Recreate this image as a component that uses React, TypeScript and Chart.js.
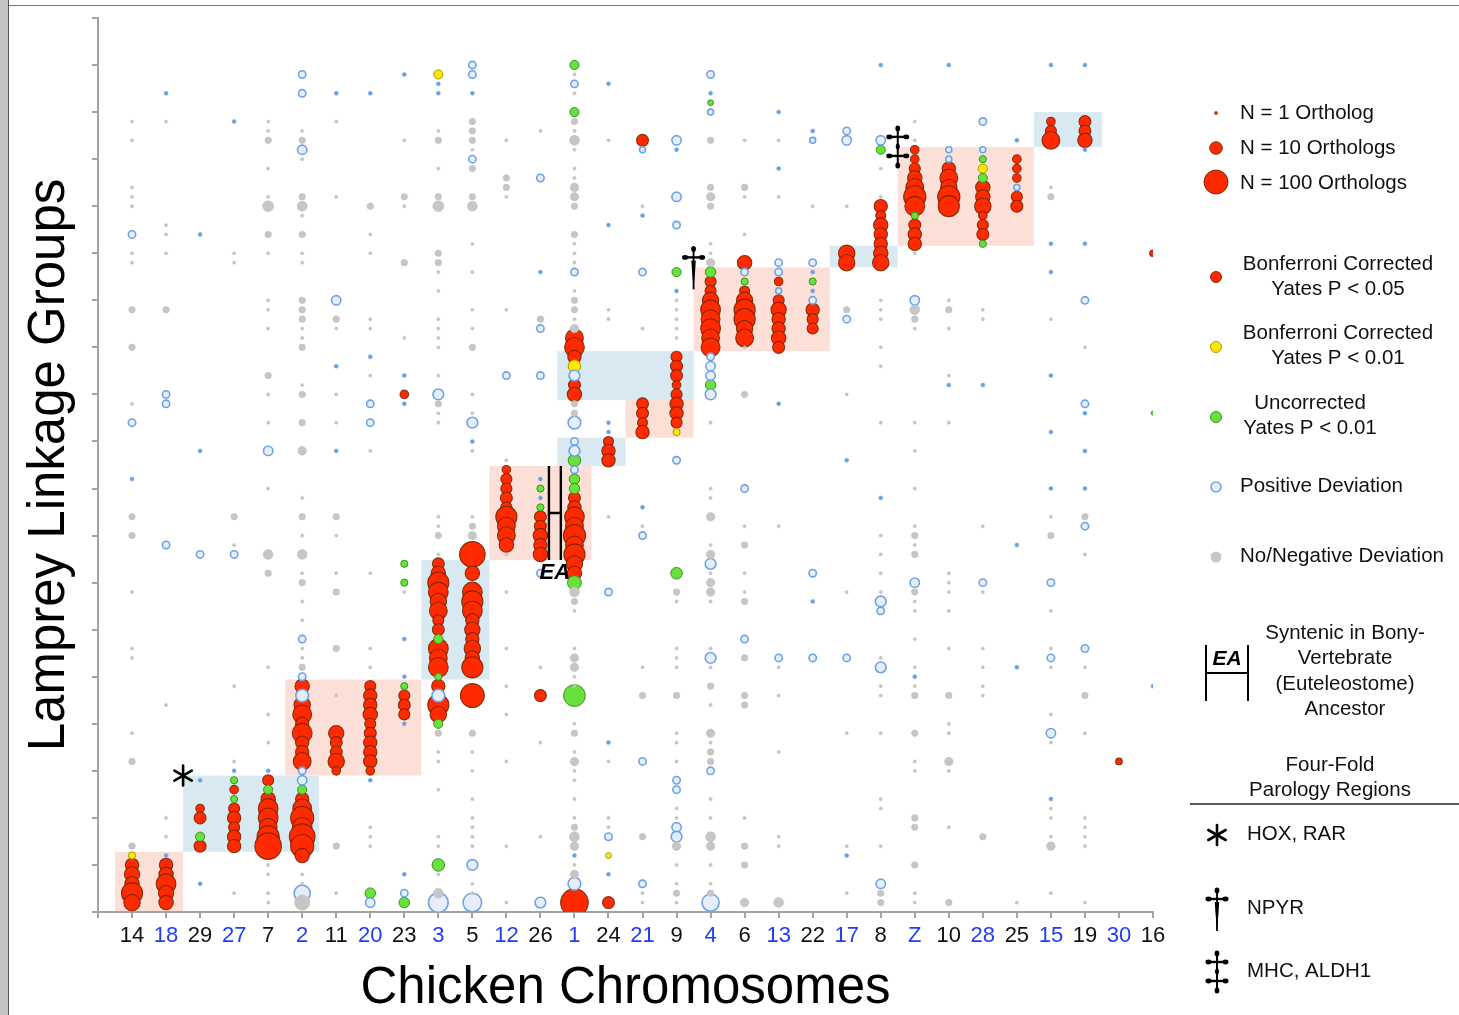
import React, { useEffect, useRef } from 'react';
import { Chart, registerables } from 'chart.js';

Chart.register(...registerables);

const FONT = '"Liberation Sans", Arial, Helvetica, sans-serif';

const categories = ['14','18','29','27','7','2','11','20','23','3','5','12','26','1','24','21','9','4','6','13','22','17','8','Z','10','28','25','15','19','30','16'];
const blueCategories = ['18','27','2','20','3','12','1','21','4','13','17','Z','28','15','30'];

type Entry = number | [number, number];
type Column = [string, Entry[]];

// [chicken chromosome, [[lamprey LG, ortholog count], ...]]
const redPoints: Column[] = [
  ['14', [[5,8],[4,12],[3,10],[2,40],[1,15]]],
  ['18', [[5,8],[4,10],[3,30],[2,12],[1,10]]],
  ['29', [[11,3],[10,6],[7,6]]],
  ['27', [[13,3],[11,5],[10,8],[9,5],[8,8],[7,8]]],
  ['7', [[14,5],[12,10],[11,30],[10,30],[9,20],[8,50],[7,120]]],
  ['2', [[24,10],[22,15],[21,25],[20,8],[19,30],[18,8],[17,8],[16,20],[12,8],[11,25],[10,60],[9,30],[8,100],[7,60],[6,10]]],
  ['11', [[19,12],[18,6],[17,6],[16,15],[15,3]]],
  ['20', [[24,5],[23,8],[22,8],[21,10],[20,5],[19,6],[18,8],[17,8],[16,8],[15,3]]],
  ['23', [[55,3],[23,5],[22,6],[21,5]]],
  ['3', [[37,6],[36,10],[35,40],[34,30],[33,15],[32,20],[31,5],[30,6],[28,30],[27,20],[26,30],[24,8],[22,40],[21,15]]],
  ['5', [[38,100],[36,10],[34,30],[33,40],[32,30],[31,8],[30,12],[29,8],[28,15],[27,10],[26,40],[23,70]]],
  ['12', [[47,3],[46,5],[45,5],[44,6],[43,5],[42,40],[41,20],[40,20],[39,10]]],
  ['26', [[42,6],[41,6],[40,10],[39,8],[38,10],[23,6]]],
  ['1', [[61,20],[60,30],[59,8],[56,6],[55,10],[44,6],[43,8],[42,30],[41,20],[40,50],[39,20],[38,40],[37,15],[36,10],[1,150]]],
  ['24', [[50,4],[49,8],[48,8],[1,6]]],
  ['21', [[82,6],[54,6],[53,6],[52,4],[51,8]]],
  ['9', [[59,5],[58,6],[57,6],[56,3],[55,5],[54,8],[53,8],[52,5]]],
  ['4', [[67,5],[66,5],[65,15],[64,30],[63,25],[62,30],[61,20],[60,25]]],
  ['6', [[69,10],[66,4],[65,15],[64,40],[63,40],[62,15],[61,20]]],
  ['13', [[67,3],[65,5],[64,12],[63,8],[62,8],[61,10],[60,6]]],
  ['22', [[64,8],[63,5],[62,5]]],
  ['17', [[70,15],[69,15]]],
  ['8', [[75,8],[74,4],[73,10],[72,8],[71,8],[70,10],[69,15]]],
  ['Z', [[81,3],[80,3],[79,5],[78,10],[77,20],[76,50],[75,30],[73,6],[72,8],[71,8]]],
  ['10', [[79,8],[78,20],[77,15],[76,50],[75,40]]],
  ['28', [[77,10],[76,10],[75,15],[74,3],[73,5],[72,6]]],
  ['25', [[80,3],[79,3],[78,3],[76,5],[75,6]]],
  ['15', [[84,3],[83,5],[82,20]]],
  ['19', [[84,6],[83,6],[82,10]]],
  ['30', [[16,2]]],
  ['16', [[70,2]]],
];

const yellowPoints: Column[] = [
  ['14', [[6,2]]],
  ['3', [[89,3]]],
  ['1', [[58,6]]],
  ['24', [[6,1.5]]],
  ['9', [[51,2]]],
  ['28', [[79,3]]],
];

const greenPoints: Column[] = [
  ['29', [[8,3]]],
  ['27', [[14,2],[12,2]]],
  ['7', [[13,3]]],
  ['2', [[13,3]]],
  ['20', [[2,4]]],
  ['23', [[37,2],[35,2],[24,2],[1,4]]],
  ['3', [[29,3],[25,2],[20,3],[5,6]]],
  ['26', [[45,2],[43,2]]],
  ['1', [[90,3],[85,3],[48,6],[46,4],[45,4],[35,8],[23,40]]],
  ['9', [[68,3],[36,5]]],
  ['4', [[86,1.5],[68,4],[56,4]]],
  ['6', [[67,2]]],
  ['22', [[67,2]]],
  ['8', [[81,3]]],
  ['Z', [[74,2]]],
  ['28', [[80,2],[78,3],[71,2]]],
  ['16', [[53,1]]],
];

const bluePoints: Column[] = [
  ['14', [[72,2],[52,2],46]],
  ['18', [87,[55,2],[54,2],[39,2],6]],
  ['29', [72,49,[38,2],14,3]],
  ['27', [84,[38,2],15]],
  ['7', [[49,3],15]],
  ['2', [[89,2],[87,2],[81,3],[29,2],[25,2],[23,6],[15,2],[14,3],[2,12]]],
  ['11', [87,[65,3],58,49]],
  ['20', [87,59,[54,2],[52,2],14,[1,3]]],
  ['23', [89,57,54,29,25,20,4,[2,2]]],
  ['3', [88,87,[55,4],[23,6],[1,25]]],
  ['5', [[90,2],[89,2],87,[80,2],[52,4],50,[5,4],[1,20]]],
  ['12', [[57,2]]],
  ['26', [[78,2],68,[62,2],[57,2],46,44,[36,2],[1,4]]],
  ['1', [[88,2],[68,2],[57,4],[52,6],[50,2],[49,4],[47,2],6,[3,6]]],
  ['24', [88,73,52,51,[34,2],18,[8,2],4]],
  ['21', [[81,1.5],74,[68,2],43,[40,2],[16,2],[3,2]]],
  ['9', [[82,3],81,[76,3],[73,2],66,[48,2],[14,2],[13,2],[9,3],[8,4]]],
  ['4', [[89,2],87,[85,1.5],[59,2],[58,3],[57,3],[55,4],[37,4],[27,4],[15,2],[1,15]]],
  ['6', [[68,2],[45,2],[29,2]]],
  ['13', [85,79,[69,2],[68,2],[66,1.5],54,[27,2]]],
  ['22', [83,[82,1.5],[69,2],68,66,[65,2],[36,2],33,[27,2]]],
  ['17', [[83,2],[82,3],[63,2],48,[27,2],6]],
  ['8', [90,[82,3],44,[33,4],[32,2],[26,4],[3,3]]],
  ['Z', [[65,3],[35,3],25]],
  ['10', [90,[81,1.5],[80,1.5],56]],
  ['28', [[84,2],[81,1.5],56,[35,2]]],
  ['25', [82,[77,1.5],39,26]],
  ['15', [90,71,68,57,51,45,[35,2],[27,2],[19,3],12]],
  ['19', [90,81,71,[65,2],[54,2],53,49,45,[41,2],[28,2]]],
  ['16', [24]],
];

const grayPoints: Column[] = [
  ['14', [84,82,77,76,75,70,69,[64,2],[60,2],54,[42,2],[40,2],34,28,27,19,[16,2],[7,2]]],
  ['18', [84,73,72,70,[64,2],22,10,8]],
  ['27', [70,69,[42,2],39,24,16,2]],
  ['7', [84,83,[82,2],79,76,[75,5],[72,2],70,65,64,62,[57,2],55,52,45,[38,4],[36,2],26,21,18,5,4,2,1]],
  ['2', [83,[82,2],80,[76,2],[75,4],74,[72,2],70,69,[65,2],[64,2],[63,2],62,61,[60,2],56,[55,2],[52,2],[49,3],44,[42,2],40,[38,4],36,[35,2],33,31,28,27,[26,2],4,3,[1,12]]],
  ['11', [84,76,[63,2],62,55,52,[42,2],40,36,[34,2],[28,2],23,[7,2],2]],
  ['20', [[75,2],72,70,63,62,57,49,36,28,26,9,8,7]],
  ['23', [82,[76,2],75,[69,2],61,34]],
  ['3', [83,[82,2],79,[76,2],[75,5],[70,2],[69,2],68,66,63,62,61,60,57,[54,2],53,52,42,41,[40,2],38,[19,2],17,16,13,8,7,4,[2,4]]],
  ['5', [[84,2],[83,2],[82,2],81,[79,2],[76,2],[75,4],71,68,64,62,[60,2],55,53,49,42,[41,2],[40,3],[19,2],17,15,12,10,9,8,7,3,2]],
  ['12', [82,[78,2],[77,2],76,64,48,38,34,28,24,21,16,7,1]],
  ['26', [83,[63,2],26,18,8]],
  ['1', [89,87,[84,2],83,[82,4],81,79,78,[77,3],[76,3],[75,2],[72,2],71,70,69,66,[65,2],[64,2],63,[62,3],[54,2],[53,2],[34,4],[33,2],32,28,[27,3],[26,3],25,24,20,[19,2],17,[16,3],15,14,12,10,[9,2],[8,4],[7,3],5,[4,3]]],
  ['24', [82,64,63,42,16,10,9]],
  ['21', [75,62,41,26,[23,2],[8,2],2,1]],
  ['9', [65,64,63,62,61,[34,2],33,28,27,26,[23,2],19,18,16,11,10,[7,3],5,3,[2,2],1]],
  ['4', [[82,2],[77,2],[76,3],[75,2],71,70,[69,3],52,45,44,[42,3],39,[38,3],36,[35,3],[34,3],33,28,26,[24,2],22,[19,3],18,[17,2],[16,2],12,10,[8,4],[7,3],5,3,[2,2]]],
  ['6', [82,[77,2],76,72,60,[55,2],41,[39,2],36,34,[33,2],[27,2],[23,2],[22,2],10,[7,2],[5,2],[1,3]]],
  ['13', [82,76,41,26,23,17,8,7,[1,4]]],
  ['22', [75]],
  ['17', [75,[64,2],55,34,19,7,2]],
  ['8', [79,76,65,64,63,60,58,52,40,38,36,34,27,24,23,19,12,11,7,[2,2],[1,2]]],
  ['Z', [84,82,70,[64,4],[63,2],62,52,49,45,41,[40,2],39,[38,2],[34,2],33,32,29,26,24,[23,2],[19,2],16,15,[10,2],[9,2],[5,2],2,1]],
  ['10', [65,[64,2],62,57,52,36,35,34,32,28,[23,2],20,19,[16,3],15,9,[1,2]]],
  ['28', [64,63,41,34,28,26,24,23,[8,2]]],
  ['25', [1]],
  ['15', [77,[76,2],63,42,[40,2],32,28,26,21,18,11,10,8,[7,3],2]],
  ['19', [60,[42,2],38,26,[23,2],19,10,9,8,7,1]],
];

// Four-fold paralogy regions (chromosome span, linkage-group span)
const regionFrom = ['14','29','2','3','12','1','21','1','4','17','Z','15'];
const regionTo = ['18','2','23','5','1','24','9','9','22','8','25','19'];
const regionLow = [0, 6.4, 14.5, 24.7, 37.4, 47.4, 50.4, 54.4, 59.6, 68.5, 70.8, 81.3];
const regionHigh = [6.4, 14.5, 24.7, 37.4, 47.4, 50.4, 54.4, 59.6, 68.5, 70.8, 81.3, 85];
const regionKind = ['pink','blue','pink','blue','pink','blue','pink','blue','pink','blue','pink','blue'];

const idx = (c: string) => categories.indexOf(c);
const radiusOf = (n: number) => 1.6 + 5.6 * Math.log10(n);

const toPts = (cols: Column[]) =>
  cols.flatMap(([c, es]) =>
    es.map((e) => (Array.isArray(e) ? { x: idx(c), y: e[0], n: e[1] } : { x: idx(c), y: e, n: 1 }))
  );

const RED = '#ff2a00', RED_EDGE = 'rgba(120,38,0,0.9)';
const GREEN = '#66e23a', GREEN_EDGE = '#3c8f22';
const YELLOW = '#ffe800', YELLOW_EDGE = '#a89800';
const BLUE_EDGE = '#6ea2e6', BLUE_FILL = '#e6eefb', BLUE_DOT = '#6b9fe4';
const GRAY = '#c6c6c6';

function circle(ctx: CanvasRenderingContext2D, x: number, y: number, r: number, fill: string, stroke?: string, lw = 1) {
  ctx.beginPath();
  ctx.arc(x, y, r, 0, Math.PI * 2);
  ctx.fillStyle = fill;
  ctx.fill();
  if (stroke) {
    ctx.strokeStyle = stroke;
    ctx.lineWidth = lw;
    ctx.stroke();
  }
}

function ball(ctx: CanvasRenderingContext2D, x: number, y: number, rx: number, ry: number) {
  ctx.beginPath();
  ctx.ellipse(x, y, rx, ry, 0, 0, Math.PI * 2);
  ctx.fill();
}

function drawAsterisk(ctx: CanvasRenderingContext2D, cx: number, cy: number, r: number) {
  ctx.save();
  ctx.strokeStyle = '#000';
  ctx.lineWidth = 2.6;
  ctx.lineCap = 'round';
  for (let k = 0; k < 3; k++) {
    const a = Math.PI / 2 + (k * Math.PI) / 3;
    ctx.beginPath();
    ctx.moveTo(cx - r * Math.cos(a), cy - r * Math.sin(a));
    ctx.lineTo(cx + r * Math.cos(a), cy + r * Math.sin(a));
    ctx.stroke();
  }
  ctx.restore();
}

function drawDagger(ctx: CanvasRenderingContext2D, cx: number, top: number) {
  ctx.save();
  ctx.fillStyle = '#000';
  ctx.strokeStyle = '#000';
  ctx.lineWidth = 1.8;
  ctx.beginPath();
  ctx.moveTo(cx, top + 2);
  ctx.lineTo(cx, top + 43);
  ctx.stroke();
  ctx.lineWidth = 2.4;
  ctx.beginPath();
  ctx.moveTo(cx - 8, top + 11);
  ctx.lineTo(cx + 8, top + 11);
  ctx.stroke();
  ball(ctx, cx, top + 2.5, 2.4, 3);
  ball(ctx, cx - 8.5, top + 11, 3, 2.4);
  ball(ctx, cx + 8.5, top + 11, 3, 2.4);
  ctx.beginPath();
  ctx.moveTo(cx - 2.2, top + 14);
  ctx.lineTo(cx + 2.2, top + 14);
  ctx.lineTo(cx + 1.6, top + 24);
  ctx.lineTo(cx, top + 42);
  ctx.lineTo(cx - 1.6, top + 24);
  ctx.closePath();
  ctx.fill();
  ctx.restore();
}

function drawDoubleDagger(ctx: CanvasRenderingContext2D, cx: number, top: number) {
  ctx.save();
  ctx.fillStyle = '#000';
  ctx.strokeStyle = '#000';
  ctx.lineWidth = 2;
  ctx.beginPath();
  ctx.moveTo(cx, top + 2);
  ctx.lineTo(cx, top + 40);
  ctx.stroke();
  ctx.lineWidth = 2.4;
  for (const dy of [11, 30]) {
    ctx.beginPath();
    ctx.moveTo(cx - 8, top + dy);
    ctx.lineTo(cx + 8, top + dy);
    ctx.stroke();
    ball(ctx, cx - 8.5, top + dy, 3, 2.4);
    ball(ctx, cx + 8.5, top + dy, 3, 2.4);
  }
  ball(ctx, cx, top + 2.5, 2.4, 3);
  ball(ctx, cx, top + 20.5, 2, 3);
  ball(ctx, cx, top + 39.5, 2.4, 3);
  ctx.restore();
}

const regionsPlugin = {
  id: 'regions',
  beforeDraw(chart: any) {
    const { ctx, scales } = chart;
    const x = scales.x, y = scales.y;
    ctx.save();
    for (let i = 0; i < regionFrom.length; i++) {
      const x0 = x.getPixelForValue(idx(regionFrom[i]) - 0.5);
      const x1 = x.getPixelForValue(idx(regionTo[i]) + 0.5);
      const y0 = y.getPixelForValue(regionHigh[i]);
      const y1 = y.getPixelForValue(regionLow[i]);
      ctx.fillStyle = regionKind[i] === 'pink' ? 'rgb(252,224,215)' : 'rgb(217,233,242)';
      ctx.fillRect(x0, y0, x1 - x0, y1 - y0);
    }
    ctx.restore();
  },
};

const marksPlugin = {
  id: 'marks',
  afterDatasetsDraw(chart: any) {
    const { ctx, scales } = chart;
    const x = scales.x, y = scales.y;
    ctx.save();
    const xa = x.getPixelForValue(12.25), xb = x.getPixelForValue(12.6);
    const yt = y.getPixelForValue(47.4), yb = y.getPixelForValue(37.4), ym = y.getPixelForValue(42.4);
    ctx.strokeStyle = '#000';
    ctx.lineWidth = 2.4;
    ctx.beginPath();
    ctx.moveTo(xa, yt); ctx.lineTo(xa, yb);
    ctx.moveTo(xb, yt); ctx.lineTo(xb, yb);
    ctx.moveTo(xa, ym); ctx.lineTo(xb, ym);
    ctx.stroke();
    ctx.fillStyle = '#000';
    ctx.font = `italic bold 22px ${FONT}`;
    ctx.textAlign = 'center';
    ctx.textBaseline = 'middle';
    ctx.fillText('EA', (xa + xb) / 2, yb + 13);
    ctx.restore();
    drawAsterisk(ctx, x.getPixelForValue(1.5), y.getPixelForValue(14.5), 10);
    drawDagger(ctx, x.getPixelForValue(16.5), y.getPixelForValue(68.5) - 21);
    drawDoubleDagger(ctx, x.getPixelForValue(22.5), y.getPixelForValue(81.3) - 21);
  },
};

const legendPlugin = {
  id: 'customLegend',
  afterDraw(chart: any) {
    const ctx: CanvasRenderingContext2D = chart.ctx;
    ctx.save();
    const cx = 1216;
    circle(ctx, cx, 113, 1.6, RED, RED_EDGE, 0.6);
    circle(ctx, cx, 148, 6.3, RED, RED_EDGE, 1);
    circle(ctx, cx, 182, 12, RED, RED_EDGE, 1);
    circle(ctx, cx, 277, 5.5, RED, RED_EDGE, 1);
    circle(ctx, cx, 347, 5.5, YELLOW, YELLOW_EDGE, 1);
    circle(ctx, cx, 417, 5.5, GREEN, GREEN_EDGE, 1);
    circle(ctx, cx, 487, 5, BLUE_FILL, BLUE_EDGE, 1.6);
    circle(ctx, cx, 557, 5.5, GRAY);

    ctx.fillStyle = '#111';
    ctx.font = `20.5px ${FONT}`;
    ctx.textBaseline = 'middle';
    ctx.textAlign = 'left';
    const left: [string, number, number][] = [
      ['N = 1 Ortholog', 1240, 113],
      ['N = 10 Orthologs', 1240, 148],
      ['N = 100 Orthologs', 1240, 183],
      ['Positive Deviation', 1240, 486],
      ['No/Negative Deviation', 1240, 556],
      ['HOX, RAR', 1247, 834],
      ['NPYR', 1247, 908],
      ['MHC, ALDH1', 1247, 971],
    ];
    left.forEach(([t, x, y]) => ctx.fillText(t, x, y));
    ctx.textAlign = 'center';
    const centered: [string, number, number][] = [
      ['Bonferroni Corrected', 1338, 264],
      ['Yates P < 0.05', 1338, 289],
      ['Bonferroni Corrected', 1338, 333],
      ['Yates P < 0.01', 1338, 358],
      ['Uncorrected', 1310, 403],
      ['Yates P < 0.01', 1310, 428],
      ['Syntenic in Bony-', 1345, 633],
      ['Vertebrate', 1345, 658],
      ['(Euteleostome)', 1345, 684],
      ['Ancestor', 1345, 709],
      ['Four-Fold', 1330, 765],
      ['Parology Regions', 1330, 790],
    ];
    centered.forEach(([t, x, y]) => ctx.fillText(t, x, y));

    ctx.strokeStyle = '#000';
    ctx.lineWidth = 2;
    ctx.beginPath();
    ctx.moveTo(1206, 645); ctx.lineTo(1206, 701);
    ctx.moveTo(1248, 645); ctx.lineTo(1248, 701);
    ctx.moveTo(1206, 673); ctx.lineTo(1248, 673);
    ctx.stroke();
    ctx.font = `italic bold 21px ${FONT}`;
    ctx.fillStyle = '#000';
    ctx.fillText('EA', 1227, 659);

    ctx.strokeStyle = '#222';
    ctx.lineWidth = 1.5;
    ctx.beginPath();
    ctx.moveTo(1190, 804); ctx.lineTo(1459, 804);
    ctx.stroke();
    ctx.restore();

    drawAsterisk(ctx, 1217, 835, 10);
    drawDagger(ctx, 1217, 888);
    drawDoubleDagger(ctx, 1217, 951);
  },
};

export default function App() {
  const ref = useRef<HTMLCanvasElement>(null);
  useEffect(() => {
    if (!ref.current) return;
    Chart.defaults.font.family = FONT;
    const axisColor = '#a3a3a3';
    const chart = new Chart(ref.current, {
      type: 'scatter',
      data: {
        datasets: [
          {
            label: 'No/Negative Deviation',
            data: toPts(grayPoints),
            pointRadius: (c: any) => radiusOf(c.raw.n),
            pointHoverRadius: (c: any) => radiusOf(c.raw.n),
            pointBackgroundColor: GRAY,
            pointBorderColor: '#bdbdbd',
            pointBorderWidth: 0.5,
          },
          {
            label: 'Positive Deviation',
            data: toPts(bluePoints),
            pointRadius: (c: any) => radiusOf(c.raw.n) + 0.4,
            pointHoverRadius: (c: any) => radiusOf(c.raw.n) + 0.4,
            pointBackgroundColor: (c: any) => (c.raw.n <= 1 ? BLUE_DOT : BLUE_FILL),
            pointBorderColor: BLUE_EDGE,
            pointBorderWidth: (c: any) => (c.raw.n <= 1 ? 0.5 : 1.6),
          },
          {
            label: 'Uncorrected Yates P < 0.01',
            data: toPts(greenPoints),
            pointRadius: (c: any) => radiusOf(c.raw.n) + 0.3,
            pointHoverRadius: (c: any) => radiusOf(c.raw.n) + 0.3,
            pointBackgroundColor: GREEN,
            pointBorderColor: GREEN_EDGE,
            pointBorderWidth: 1,
          },
          {
            label: 'Bonferroni Corrected Yates P < 0.01',
            data: toPts(yellowPoints),
            pointRadius: (c: any) => radiusOf(c.raw.n) + 0.3,
            pointHoverRadius: (c: any) => radiusOf(c.raw.n) + 0.3,
            pointBackgroundColor: YELLOW,
            pointBorderColor: YELLOW_EDGE,
            pointBorderWidth: 1,
          },
          {
            label: 'Bonferroni Corrected Yates P < 0.05',
            data: toPts(redPoints),
            pointRadius: (c: any) => radiusOf(c.raw.n),
            pointHoverRadius: (c: any) => radiusOf(c.raw.n),
            pointBackgroundColor: RED,
            pointBorderColor: RED_EDGE,
            pointBorderWidth: 1.1,
          },
        ],
      },
      options: {
        responsive: false,
        animation: false,
        events: [],
        layout: { padding: { left: 0, top: 18, right: 306, bottom: 0 } },
        plugins: { legend: { display: false }, tooltip: { enabled: false } },
        scales: {
          x: {
            type: 'linear',
            position: 'bottom',
            min: -1,
            max: 30,
            afterFit: (s: any) => { s.height = 103; },
            ticks: {
              stepSize: 1,
              autoSkip: false,
              maxRotation: 0,
              padding: 5,
              font: { size: 22, family: FONT },
              color: (c: any) => (blueCategories.includes(categories[c.tick?.value]) ? '#1f3cf6' : '#111'),
              callback: (v: any) => (Number.isInteger(v) && v >= 0 && v < categories.length ? categories[v] : ''),
            },
            grid: { drawOnChartArea: false, drawTicks: true, tickLength: 6, color: axisColor, lineWidth: 2 },
            border: { color: axisColor, width: 2 },
            title: {
              display: true,
              text: 'Chicken Chromosomes',
              color: '#000',
              font: { size: 51, family: FONT, lineHeight: 1 },
              padding: { top: 0, bottom: 1 },
            },
          },
          y: {
            type: 'linear',
            position: 'left',
            min: 0,
            max: 95,
            afterFit: (s: any) => { s.width = 98; },
            ticks: { stepSize: 5, display: false },
            grid: { drawOnChartArea: false, drawTicks: true, tickLength: 6, color: axisColor, lineWidth: 2 },
            border: { color: axisColor, width: 2 },
            title: {
              display: true,
              text: 'Lamprey Linkage Groups',
              color: '#000',
              font: { size: 51, family: FONT, lineHeight: 1 },
              padding: { top: 24, bottom: 0 },
            },
          },
        },
      } as any,
      plugins: [regionsPlugin, marksPlugin, legendPlugin],
    });
    return () => chart.destroy();
  }, []);

  return (
    <div style={{ position: 'absolute', left: 0, top: 0, width: 1459, height: 1015, background: '#fff', overflow: 'hidden' }}>
      <canvas ref={ref} width={1459} height={1015} style={{ display: 'block', width: 1459, height: 1015 }} />
      <div style={{ position: 'absolute', left: 0, top: 0, width: 8, height: 1015, background: '#c4c4c4', borderRight: '1px solid #555' }} />
      <div style={{ position: 'absolute', left: 9, top: 5, width: 1450, height: 1, background: '#777' }} />
    </div>
  );
}
